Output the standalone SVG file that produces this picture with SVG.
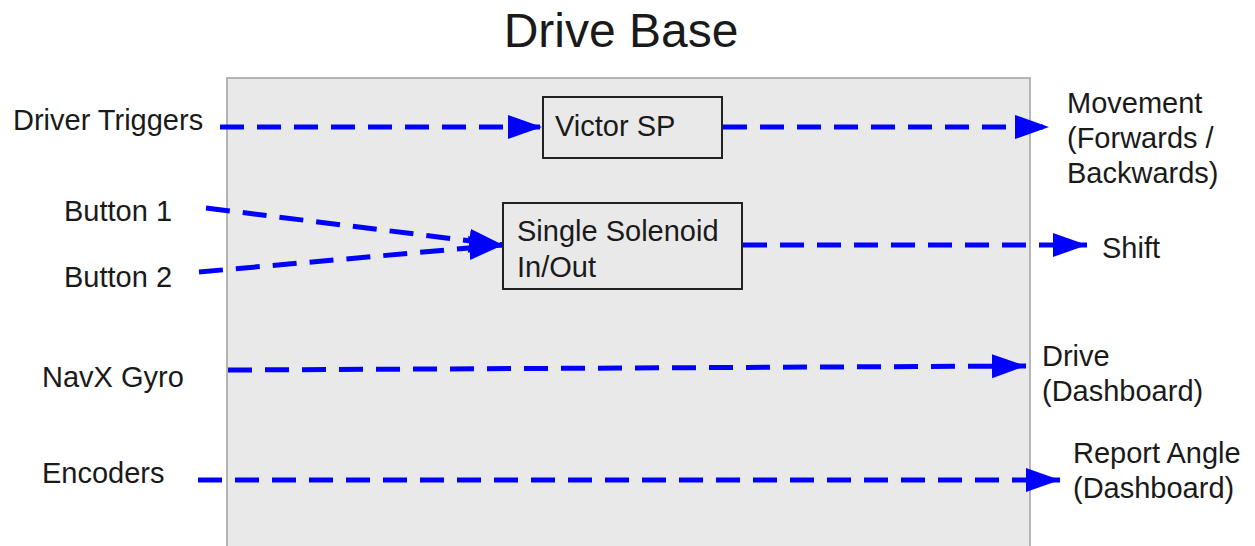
<svg xmlns="http://www.w3.org/2000/svg" width="1255" height="546" viewBox="0 0 1255 546">
  <style>
    text { font-family: "Liberation Sans", Arial, sans-serif; fill: #1a1a1a; }
    .lbl { font-size: 29px; }
    .title { font-size: 48px; }
    .node { fill: #e9e9e9; stroke: #222; stroke-width: 2; }
    .flow { fill: none; stroke: #0000ff; stroke-width: 5; stroke-dasharray: 24 13; }
  </style>
  <defs>
    <marker id="arrow" markerUnits="userSpaceOnUse" markerWidth="36" markerHeight="26" refX="34" refY="12" orient="auto">
      <path d="M0,0 L34,12 L0,24 Z" fill="#0000ff"/>
    </marker>
  </defs>

  <rect width="1255" height="546" fill="#ffffff"/>

  <!-- subsystem boundary -->
  <g id="drive-base">
    <rect x="227" y="78" width="803" height="490" fill="#e9e9e9" stroke="#a0a0a0" stroke-width="1.5"/>
    <text class="title" x="621" y="47" text-anchor="middle">Drive Base</text>
  </g>

  <!-- connectors -->
  <g id="connectors">
    <path class="flow" d="M220,127 L542,127" marker-end="url(#arrow)"/>
    <path class="flow" d="M723,127 L1049,127" marker-end="url(#arrow)"/>
    <path class="flow" d="M206,208 L503,245" marker-end="url(#arrow)"/>
    <path class="flow" d="M199,272 L503,245" marker-end="url(#arrow)"/>
    <path class="flow" d="M743,245 L1087,245" marker-end="url(#arrow)"/>
    <path class="flow" d="M228,370 L1026,366" marker-end="url(#arrow)"/>
    <path class="flow" d="M198,480 L1060,480" marker-end="url(#arrow)"/>
  </g>

  <!-- inputs -->
  <g id="driver-triggers"><text class="lbl" x="13" y="130">Driver Triggers</text></g>
  <g id="button-1"><text class="lbl" x="64" y="221">Button 1</text></g>
  <g id="button-2"><text class="lbl" x="64" y="287">Button 2</text></g>
  <g id="navx-gyro"><text class="lbl" x="42" y="387">NavX Gyro</text></g>
  <g id="encoders"><text class="lbl" x="42" y="483">Encoders</text></g>

  <!-- internal blocks -->
  <g id="victor-sp">
    <rect class="node" x="543" y="97" width="179" height="61"/>
    <text class="lbl" x="555" y="136">Victor SP</text>
  </g>
  <g id="single-solenoid">
    <rect class="node" x="503" y="203" width="239" height="86"/>
    <text class="lbl" x="517" y="241">Single Solenoid</text>
    <text class="lbl" x="517" y="277">In/Out</text>
  </g>

  <!-- outputs -->
  <g id="movement">
    <text class="lbl" x="1067" y="113">Movement</text>
    <text class="lbl" x="1067" y="148">(Forwards /</text>
    <text class="lbl" x="1067" y="183">Backwards)</text>
  </g>
  <g id="shift"><text class="lbl" x="1102" y="258">Shift</text></g>
  <g id="drive-dashboard">
    <text class="lbl" x="1042" y="366">Drive</text>
    <text class="lbl" x="1042" y="401">(Dashboard)</text>
  </g>
  <g id="report-angle">
    <text class="lbl" x="1073" y="463">Report Angle</text>
    <text class="lbl" x="1073" y="498">(Dashboard)</text>
  </g>
</svg>
